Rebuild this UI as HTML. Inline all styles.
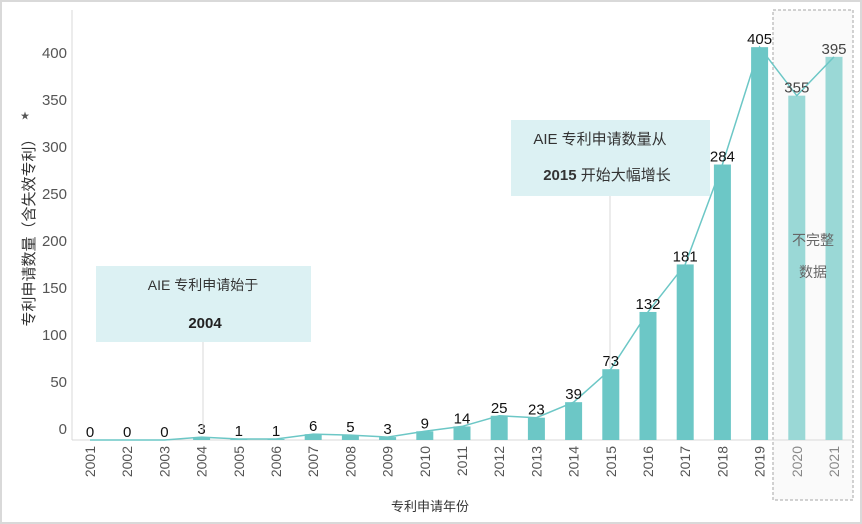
<!DOCTYPE html>
<html><head><meta charset="utf-8"><style>
body{margin:0;background:#fff}
svg{display:block;font-family:"Liberation Sans","Noto Sans CJK SC",sans-serif}
</style></head><body>
<svg width="862" height="524" viewBox="0 0 862 524">
<rect x="1" y="1" width="860" height="522" fill="#fff" stroke="#d9d9d9" stroke-width="2"/>
<rect x="773" y="10" width="80" height="490" fill="#fafafa" stroke="#a6a6a6" stroke-dasharray="3,2"/>
<line x1="72" y1="10" x2="72" y2="440" stroke="#d9d9d9"/>
<line x1="72" y1="440" x2="853" y2="440" stroke="#d9d9d9"/>
<g id="yt"></g><g id="bars"></g><path id="ln" fill="none" stroke="#6cc7c6" stroke-width="1.5"/><g id="vals"></g><g id="xt"></g>
<line x1="203" y1="342" x2="203" y2="432" stroke="#d9d9d9"/>
<rect x="96" y="266" width="215" height="76" fill="#dcf1f3"/>
<text x="203" y="290" text-anchor="middle" font-size="14" fill="#333">AIE 专利申请始于</text>
<text x="205" y="328" text-anchor="middle" font-size="15" font-weight="bold" fill="#222">2004</text>
<line x1="610" y1="196" x2="610" y2="368" stroke="#d9d9d9"/>
<rect x="511" y="120" width="199" height="76" fill="#dcf1f3"/>
<text x="600" y="144" text-anchor="middle" font-size="15" fill="#333">AIE 专利申请数量从</text>
<text x="607" y="180" text-anchor="middle" font-size="15" fill="#333"><tspan font-weight="bold">2015</tspan> 开始大幅增长</text>
<text x="813" y="245" text-anchor="middle" font-size="14" fill="#666">不完整</text>
<text x="813" y="277" text-anchor="middle" font-size="14" fill="#666">数据</text>
<text x="430" y="511" text-anchor="middle" font-size="13" fill="#333">专利申请年份</text>
<text transform="translate(34,229) rotate(-90)" text-anchor="middle" font-size="15" fill="#333">专利申请数量（含失效专利）</text>
<text x="25" y="119" text-anchor="middle" font-size="9" fill="#555">★</text>
</svg>
<script>
const years=["2001","2002","2003","2004","2005","2006","2007","2008","2009","2010","2011","2012","2013","2014","2015","2016","2017","2018","2019","2020","2021"];
const counts=[0,0,0,3,1,1,6,5,3,9,14,25,23,39,73,132,181,284,405,355,395];
const incomplete=[false,false,false,false,false,false,false,false,false,false,false,false,false,false,false,false,false,false,false,true,true];
const yTicks=[0,50,100,150,200,250,300,350,400];
const NS="http://www.w3.org/2000/svg";
function y(v){return 440-v*0.97;}
function yl(v){return 434-v*0.94;}
function x(i){return 90+i*37.2;}
function mk(t,a,p){const e=document.createElementNS(NS,t);for(const k in a)e.setAttribute(k,a[k]);document.getElementById(p).appendChild(e);return e;}
yTicks.forEach(v=>{const t=mk('text',{x:67,y:yl(v),'text-anchor':'end','font-size':15,fill:'#555'},'yt');t.textContent=v;

});
let d='';
counts.forEach((v,i)=>{
 const r=mk('rect',{x:x(i)-8.5,y:y(v),width:17,height:440-y(v),fill:incomplete[i]?'#9ad8d6':'#6cc7c6'},'bars');
 
 
 d+=(i?'L':'M')+x(i)+','+y(v);
 const t=mk('text',{x:x(i),y:y(v)-3,'text-anchor':'middle','font-size':15,fill:incomplete[i]?'#444':'#111'},'vals');t.textContent=v;
 
 
 const xt=mk('text',{transform:'translate('+(x(i)+5)+',446) rotate(-90)','text-anchor':'end','font-size':14,fill:incomplete[i]?'#888':'#555'},'xt');xt.textContent=years[i];
 
 
});
document.getElementById('ln').setAttribute('d',d);
</script>
</body></html>
